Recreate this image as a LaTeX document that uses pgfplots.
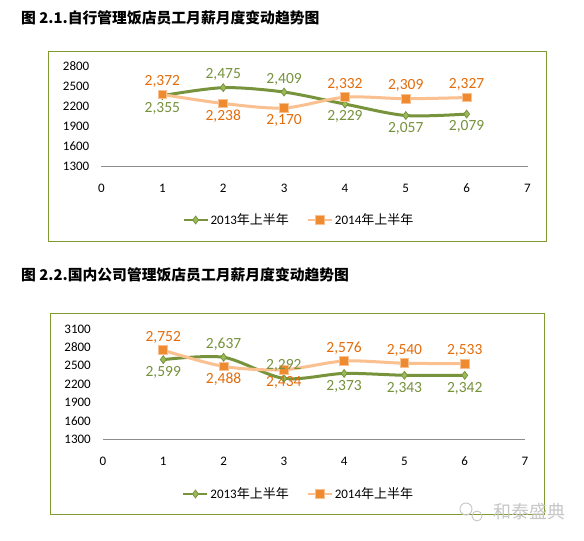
\documentclass[border=0pt]{standalone}
\usepackage{pgfplots}
\pgfplotsset{compat=1.18}
\usepackage{pgfplotstable}
\usepackage{fontspec}
\setmainfont{Carlito}
\newfontfamily\cjk{Noto Sans CJK SC}
\definecolor{gline}{HTML}{77933C}
\definecolor{gfill}{HTML}{9BBB59}
\definecolor{glab}{HTML}{76923C}
\definecolor{oline}{HTML}{FAC090}
\definecolor{ofill}{HTML}{EE8A30}
\definecolor{olab}{HTML}{E46C0A}
\definecolor{boxc}{HTML}{7F9A2E}

% chart 1, 2013 (green): labels above / below
\pgfplotstableread{
x y lab
2 2475 2,475
3 2409 2,409
}\AaUp
\pgfplotstableread{
x y lab
1 2355 2,355
4 2229 2,229
5 2057 2,057
6 2079 2,079
}\AaDn
% chart 1, 2014 (orange)
\pgfplotstableread{
x y lab
1 2372 2,372
4 2332 2,332
5 2309 2,309
6 2327 2,327
}\AbUp
\pgfplotstableread{
x y lab
2 2238 2,238
3 2170 2,170
}\AbDn
% chart 2, 2013 (green)
\pgfplotstableread{
x y lab
2 2637 2,637
3 2292 2,292
}\BaUp
\pgfplotstableread{
x y lab
1 2599 2,599
4 2373 2,373
5 2343 2,343
6 2342 2,342
}\BaDn
% chart 2, 2014 (orange)
\pgfplotstableread{
x y lab
1 2752 2,752
4 2576 2,576
5 2540 2,540
6 2533 2,533
}\BbUp
\pgfplotstableread{
x y lab
2 2488 2,488
3 2434 2,434
}\BbDn

\pgfplotsset{
  mychart/.style={
    scale only axis, clip=false,
    xmin=0, xmax=7,
    xtick={0,...,7}, xticklabels={0,1,2,3,4,5,6,7},
    axis x line*=bottom, axis y line*=left,
    y axis line style={draw=none},
    x axis line style={draw=black!45, line width=0.8pt, -},
    tick style={draw=none},
    ticklabel style={font=\fontsize{13}{15}\selectfont, text=black},
    yticklabel style={anchor=east, inner sep=0pt, xshift=-12pt},
    xticklabel style={anchor=center, inner sep=0pt, yshift=-22pt},
    legend columns=2,
    legend style={draw=none, fill=none, anchor=center,
      font=\fontsize{13}{15}\selectfont,
      /tikz/every even column/.append style={column sep=16pt}},
    legend image code/.code={\draw[mark repeat=2,mark phase=2,#1,line width=2pt] plot coordinates {(0pt,0pt)(12pt,0pt)(24pt,0pt)};},
  },
  gser/.style={gline, line width=3pt, smooth, tension=0.5,
    mark=diamond*, mark size=3.9pt,
    mark options={fill=gfill, draw=gline, line width=0.8pt, solid}},
  oser/.style={oline, line width=3pt, smooth, tension=0.5,
    mark=square*, mark size=4.4pt,
    mark options={fill=ofill, draw=oline, line width=0.9pt, solid}},
  lbl/.style 2 args={only marks, mark=none, forget plot,
    point meta=explicit symbolic, nodes near coords,
    every node near coord/.append style={anchor=#2, outer sep=3.5pt,
      font=\fontsize{15.5}{17}\selectfont, text=#1}},
}

\begin{document}
\begin{tikzpicture}
\useasboundingbox (0pt,0pt) rectangle (584pt,541pt);
\fill[white] (0pt,0pt) rectangle (584pt,541pt);

% chart 1
\node[anchor=west, inner sep=0pt, font=\cjk\bfseries\fontsize{14.8}{17}\selectfont] at (21pt,523pt) {图 2.1.自行管理饭店员工月薪月度变动趋势图};
\draw[boxc, line width=1pt] (48pt,299pt) rectangle (546pt,489pt);
\begin{axis}[mychart, at={(101.5pt,375pt)}, anchor=south west,
  width=426pt, height=100pt,
  ymin=1300, ymax=2800,
  ytick={1300,1600,1900,2200,2500,2800},
  yticklabels={1300,1600,1900,2200,2500,2800},
  legend style={at={(0.4636,-0.54)}}]
\addplot[gser] coordinates {(1,2355) (2,2475) (3,2409) (4,2229) (5,2057) (6,2079)};
\addlegendentry{2013{\cjk 年上半年}}
\addplot[oser] coordinates {(1,2372) (2,2238) (3,2170) (4,2332) (5,2309) (6,2327)};
\addlegendentry{2014{\cjk 年上半年}}
\addplot[lbl={glab}{south}] table[x=x,y=y,meta=lab] {\AaUp};
\addplot[lbl={glab}{north}] table[x=x,y=y,meta=lab] {\AaDn};
\addplot[lbl={olab}{south}] table[x=x,y=y,meta=lab] {\AbUp};
\addplot[lbl={olab}{north}] table[x=x,y=y,meta=lab] {\AbDn};
\end{axis}

% chart 2
\node[anchor=west, inner sep=0pt, font=\cjk\bfseries\fontsize{14.8}{17}\selectfont] at (21pt,266pt) {图 2.2.国内公司管理饭店员工月薪月度变动趋势图};
\draw[boxc, line width=1pt] (50pt,26pt) rectangle (544pt,227pt);
\begin{axis}[mychart, at={(103pt,102pt)}, anchor=south west,
  width=422pt, height=110pt,
  ymin=1300, ymax=3100,
  ytick={1300,1600,1900,2200,2500,2800,3100},
  yticklabels={1300,1600,1900,2200,2500,2800,3100},
  legend style={at={(0.464,-0.5)}}]
\addplot[gser] coordinates {(1,2599) (2,2637) (3,2292) (4,2373) (5,2343) (6,2342)};
\addlegendentry{2013{\cjk 年上半年}}
\addplot[oser] coordinates {(1,2752) (2,2488) (3,2434) (4,2576) (5,2540) (6,2533)};
\addlegendentry{2014{\cjk 年上半年}}
\addplot[lbl={glab}{south}] table[x=x,y=y,meta=lab] {\BaUp};
\addplot[lbl={glab}{north}] table[x=x,y=y,meta=lab] {\BaDn};
\addplot[lbl={olab}{south}] table[x=x,y=y,meta=lab] {\BbUp};
\addplot[lbl={olab}{north}] table[x=x,y=y,meta=lab] {\BbDn};
\end{axis}

% watermark
\node[font=\cjk\fontsize{18}{20}\selectfont, text=black!22, anchor=center] at (529pt,29pt) {和泰盛典};
\draw[black!22, line width=0.9pt] (466pt,32pt) circle (6pt);
\draw[black!22, line width=0.9pt] (477pt,25pt) circle (5pt);
\end{tikzpicture}
\end{document}
